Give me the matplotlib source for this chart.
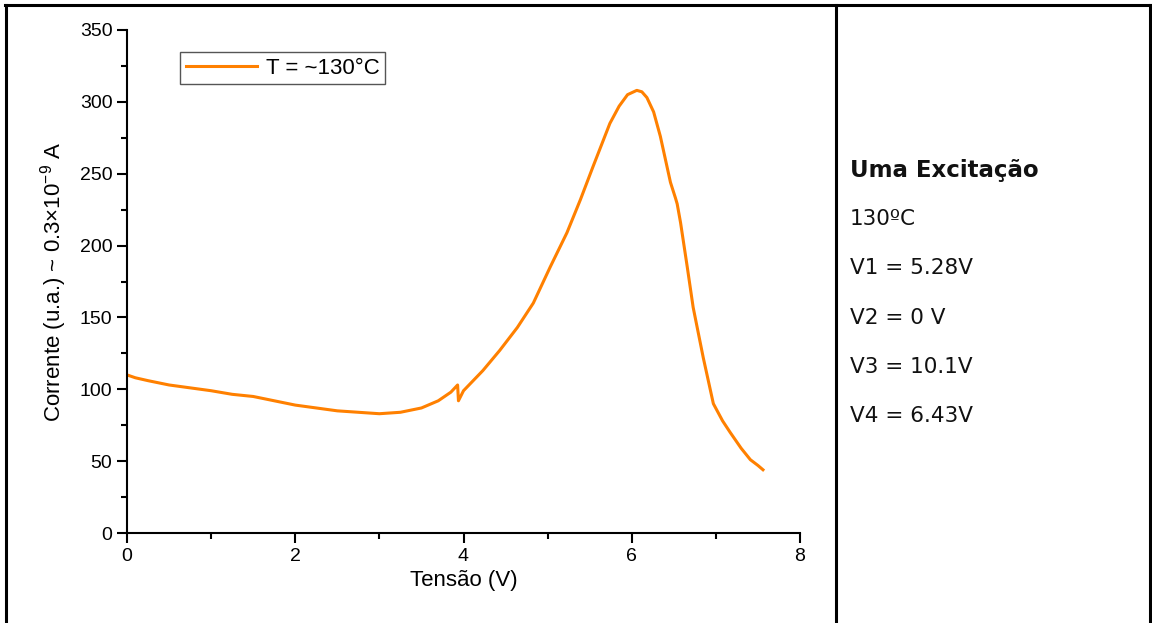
import matplotlib.pyplot as plt
from matplotlib.lines import Line2D
from matplotlib.ticker import MultipleLocator

plt.rcParams["mathtext.fontset"] = "custom"
plt.rcParams["mathtext.rm"] = "Liberation Sans"
plt.rcParams["mathtext.it"] = "Liberation Sans:italic"
plt.rcParams["axes.unicode_minus"] = False

# tensao (V) e corrente (u.a.)
tensao = [0.0, 0.1, 0.25, 0.5, 0.75, 1.0, 1.25, 1.5, 1.75, 2.0, 2.25, 2.5, 2.75,
          3.0, 3.25, 3.5, 3.7, 3.85, 3.93, 3.94, 4.0, 4.23, 4.43, 4.64, 4.83,
          5.03, 5.23, 5.39, 5.54, 5.74, 5.85, 5.95, 6.06, 6.12, 6.18, 6.26,
          6.34, 6.46, 6.52, 6.54, 6.58, 6.66, 6.73, 6.85, 6.97, 7.08, 7.17,
          7.3, 7.41, 7.5, 7.56]
corrente = [110, 108, 106, 103, 101, 99, 96.5, 95, 92, 89, 87, 85, 84,
            83, 84, 87, 92, 98, 103, 92, 99, 113, 127, 143, 160,
            185, 209, 232, 255, 285, 297, 305, 308, 307, 303, 293,
            276, 244, 233, 229, 216, 185, 157, 122, 90, 78, 70,
            59, 51, 47, 44]

legenda = "T = ~130°C"
info_titulo = "Uma Excitação"
info_linhas = ["130ºC", "V1 = 5.28V", "V2 = 0 V", "V3 = 10.1V", "V4 = 6.43V"]

laranja = "#FF8000"

fig = plt.figure(figsize=(11.52, 6.23), dpi=100)
ax = fig.add_axes([127 / 1152, 1 - 533 / 623, 673 / 1152, 503 / 623])

ax.plot(tensao, corrente, color=laranja, lw=2.2)

ax.set_xlim(0, 8)
ax.set_ylim(0, 350)
ax.xaxis.set_major_locator(MultipleLocator(2))
ax.xaxis.set_minor_locator(MultipleLocator(1))
ax.yaxis.set_major_locator(MultipleLocator(50))
ax.yaxis.set_minor_locator(MultipleLocator(25))
for s in ["top", "right"]:
    ax.spines[s].set_visible(False)
for s in ["left", "bottom"]:
    ax.spines[s].set_linewidth(1.5)
ax.tick_params(which="major", length=7, width=1.5, labelsize=14, direction="out")
ax.tick_params(which="minor", length=4, width=1.5, direction="out")
for lab in ax.get_xticklabels() + ax.get_yticklabels():
    lab.set_fontfamily("Liberation Sans")

ax.set_xlabel("Tensão (V)", fontsize=16, family="Liberation Sans", labelpad=4)
ax.set_ylabel("Corrente (u.a.) ~ 0.3×10$^{-9}$ A", fontsize=16,
              family="Liberation Sans", labelpad=8)

leg = ax.legend([Line2D([], [], color=laranja, lw=2.2)], [legenda],
                loc="upper left", bbox_to_anchor=(53 / 673, 1 - 22 / 503),
                prop={"family": "Liberation Sans", "size": 16},
                fancybox=False, framealpha=1, edgecolor="#555555",
                handlelength=3.2, handletextpad=0.4, borderpad=0.25,
                borderaxespad=0)
leg.get_frame().set_linewidth(1.0)

# caixa da tabela
def linha(x0, y0, x1, y1):
    fig.add_artist(Line2D([x0 / 1152, x1 / 1152], [1 - y0 / 623, 1 - y1 / 623],
                          color="black", lw=2.2))

linha(5, 5, 1152, 5)
linha(6, 5, 6, 623)
linha(836, 5, 836, 623)
linha(1150, 5, 1150, 623)

fig.text(850 / 1152, 1 - 170 / 623, info_titulo, fontsize=16.5, fontweight="bold",
         family="DejaVu Sans", va="center", ha="left", color="#111111")
for i, t in enumerate(info_linhas):
    fig.text(850 / 1152, 1 - (219 + 49.3 * i) / 623, t, fontsize=15.5,
             family="DejaVu Sans", va="center", ha="left", color="#111111")

fig.savefig("out.png", dpi=100)
